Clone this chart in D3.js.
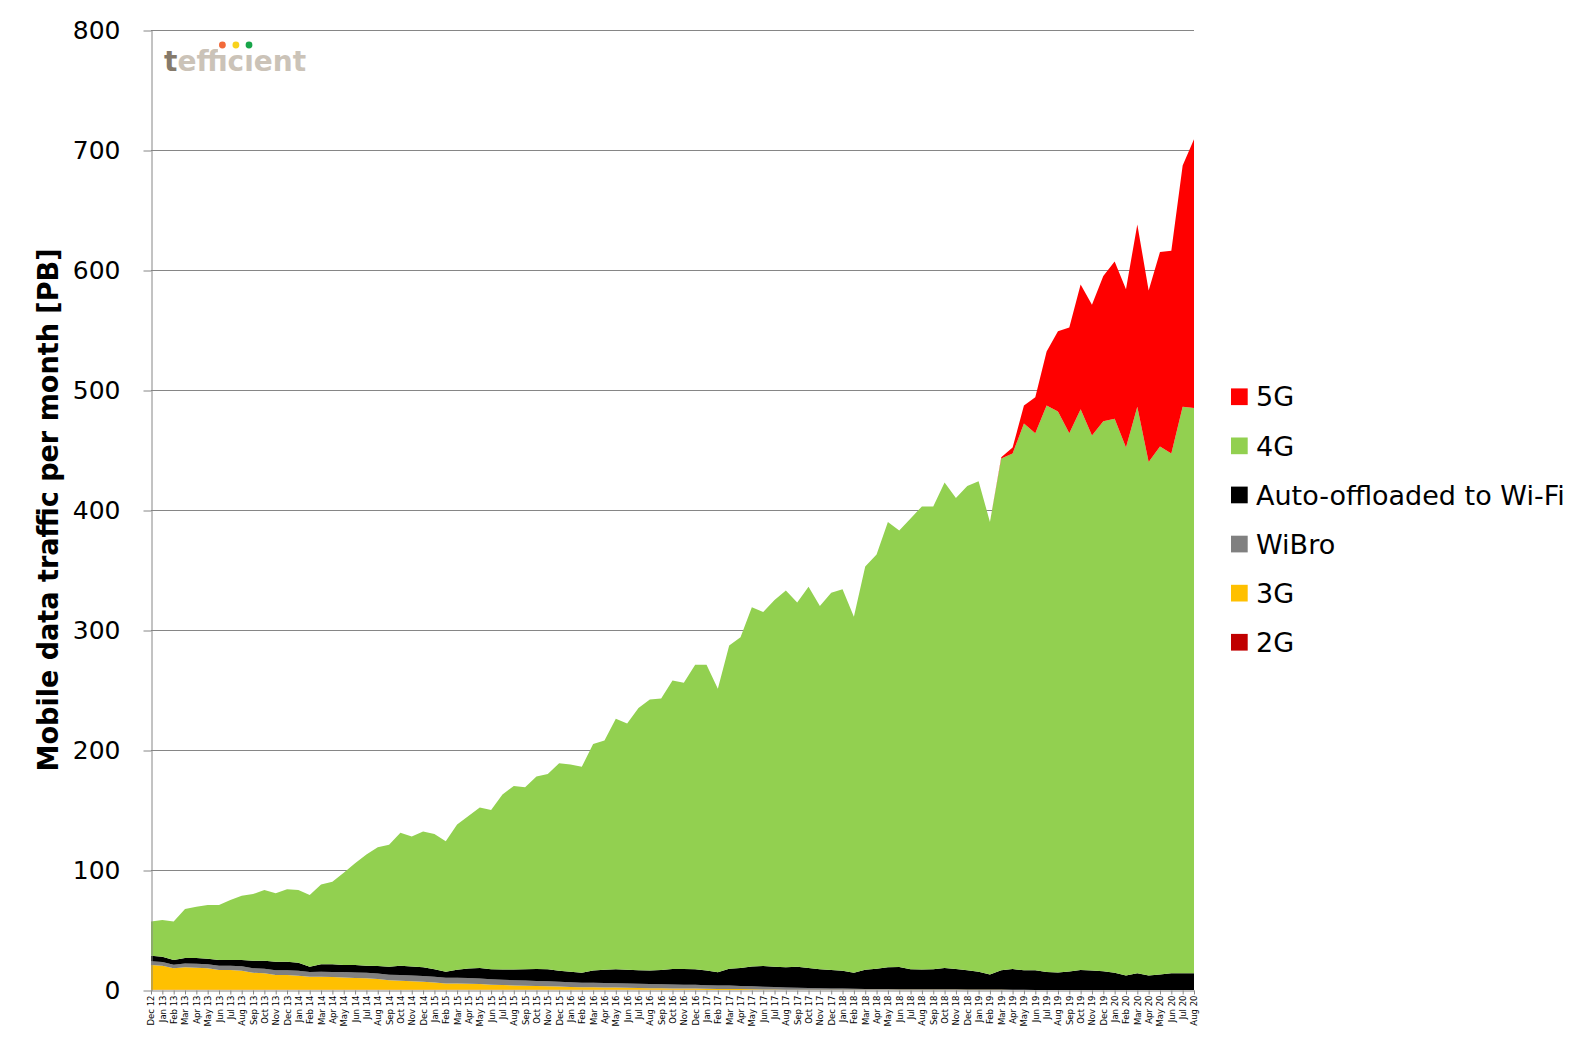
<!DOCTYPE html>
<html><head><meta charset="utf-8">
<script src="https://cdn.jsdelivr.net/npm/d3@7"></script>
<style>body{margin:0;background:#fff} svg{display:block}</style>
</head><body><svg id="c" width="1592" height="1038"></svg>
<script>
const months = ["Dec 12",
"Jan 13","Feb 13","Mar 13","Apr 13","May 13","Jun 13","Jul 13","Aug 13","Sep 13","Oct 13","Nov 13","Dec 13",
"Jan 14","Feb 14","Mar 14","Apr 14","May 14","Jun 14","Jul 14","Aug 14","Sep 14","Oct 14","Nov 14","Dec 14",
"Jan 15","Feb 15","Mar 15","Apr 15","May 15","Jun 15","Jul 15","Aug 15","Sep 15","Oct 15","Nov 15","Dec 15",
"Jan 16","Feb 16","Mar 16","Apr 16","May 16","Jun 16","Jul 16","Aug 16","Sep 16","Oct 16","Nov 16","Dec 16",
"Jan 17","Feb 17","Mar 17","Apr 17","May 17","Jun 17","Jul 17","Aug 17","Sep 17","Oct 17","Nov 17","Dec 17",
"Jan 18","Feb 18","Mar 18","Apr 18","May 18","Jun 18","Jul 18","Aug 18","Sep 18","Oct 18","Nov 18","Dec 18",
"Jan 19","Feb 19","Mar 19","Apr 19","May 19","Jun 19","Jul 19","Aug 19","Sep 19","Oct 19","Nov 19","Dec 19",
"Jan 20","Feb 20","Mar 20","Apr 20","May 20","Jun 20","Jul 20","Aug 20"];

const g2 = [0.3,0.3,0.3,0.3,0.3,0.3,0.3,0.3,0.3,0.3,0.3,0.3,0.3,0.3,0.3,0.3,0.3,0.3,0.3,0.3,0.3,0.3,0.3,0.3,0.3,
0.2,0.2,0.2,0.2,0.2,0.2,0.2,0.2,0.2,0.2,0.2,0.2,0.2,0.2,0.2,0.2,0.2,0.2,0.2,0.2,0.2,0.2,0.2,0.2,
0.1,0.1,0.1,0.1,0.1,0.1,0.1,0.1,0.1,0.1,0.1,0.1,0.1,0.1,0.1,0.1,0.1,0.1,0.1,0.1,0.1,0.1,0.1,0.1,0.1,0.1,0.1,
0,0,0,0,0,0,0,0,0,0,0,0,0,0,0,0,0];

const g3 = [20.5,20.0,17.8,18.6,18.3,17.8,16.4,16.4,15.8,14.1,
13.6,12.2,12.2,11.6,10.8,10.8,10.5,10.2,9.8,9.4,
8.8,7.8,7.5,7.0,6.6,6.0,5.3,5.2,5.0,4.7,
4.2,3.9,3.6,3.4,3.2,2.9,2.7,2.4,2.1,2.0,
1.9,1.8,1.6,1.4,1.3,1.2,1.1,1.0,1.0,0.9,
0.8,0.8,0.7,0.6,0.4,0.3,0.2,0.2,0.2,0.2,
0.2,0.2,0.2,0.1,0.1,0.1,0.1,0.1,0.1,0.1,
0.1,0.1,0.1,0.1,0.1,0.1,0.1,0.1,0,0,
0,0,0,0,0,0,0,0,0,0,
0,0,0];

const wibro = [3.2,3.0,3.0,3.2,3.3,3.4,3.5,3.5,3.6,3.8,
3.9,4.0,4.0,4.1,4.0,4.2,4.3,4.4,4.5,4.6,
4.6,4.7,4.8,4.8,4.8,4.8,4.8,4.8,4.8,4.7,
4.6,4.5,4.4,4.3,4.2,4.1,4.0,3.9,3.8,3.8,
3.7,3.7,3.6,3.6,3.5,3.4,3.3,3.2,3.1,3.0,
2.9,2.8,2.6,2.4,2.2,2.0,1.8,1.6,1.4,1.2,
1.0,0.9,0.8,0.7,0.7,0.6,0.5,0.5,0.5,0.4,
0.4,0.4,0.3,0.3,0.3,0.2,0.2,0.1,0.1,0.1,
0,0,0,0,0,0,0,0,0,0,
0,0,0];

const offload = [4.6,4.5,3.9,4.6,4.8,4.6,4.8,4.8,5.3,6.2,
6.6,7.1,7.1,6.8,4.3,6.1,6.3,5.9,6.2,6.0,
6.3,6.6,7.6,7.5,7.3,6.2,5.0,6.6,8.0,8.7,
8.2,8.4,8.8,9.3,9.9,10.0,9.1,8.7,8.3,10.3,
11.0,11.5,11.4,11.3,11.2,11.8,12.8,13.2,12.9,12.3,
11.0,14.1,14.9,16.5,17.3,17.0,16.9,17.5,16.6,15.7,
15.4,14.9,13.3,16.0,16.9,18.1,18.5,16.5,16.3,16.6,
17.7,16.9,15.9,14.8,12.5,16.0,17.2,16.2,16.3,14.9,
14.6,15.4,16.7,16.2,15.6,14.4,12.0,13.9,12.0,13.0,
14.0,14.0,13.9];

const g4 = [28.4,30.5,32.0,40.8,42.7,44.7,45.8,50.0,53.6,55.6,
58.9,57.0,60.4,60.5,59.8,66.6,68.9,77.0,84.8,92.7,
99.0,101.6,110.8,108.4,113.0,112.8,108.7,121.2,127.0,133.7,
132.8,146.0,153.0,151.8,160.5,162.8,173.0,172.8,171.6,188.7,
191.2,208.8,205.2,218.5,225.8,226.4,240.6,238.4,253.8,254.7,
236.2,269.2,275.7,299.4,295.0,305.6,314.0,303.6,317.7,302.8,
314.3,317.9,296.6,336.1,345.2,371.1,363.8,375.8,386.0,385.8,
404.7,392.5,403.6,408.7,377.0,426.6,429.5,455.6,447.6,472.0,
467.4,448.6,467.3,445.8,458.4,461.6,440.0,472.1,428.0,440.0,
433.0,472.0,471.1];

const g5 = [0,0,0,0,0,0,0,0,0,0,
0,0,0,0,0,0,0,0,0,0,
0,0,0,0,0,0,0,0,0,0,
0,0,0,0,0,0,0,0,0,0,
0,0,0,0,0,0,0,0,0,0,
0,0,0,0,0,0,0,0,0,0,
0,0,0,0,0,0,0,0,0,0,
0,0,0,0,0,1,5,15,30,45,
67,88,104,109,121,131,132,152,143,162,
169,201,224];

const yTicks = [0,100,200,300,400,500,600,700,800];
const seriesNames = ["2G","3G","WiBro","Auto-offloaded to Wi-Fi","4G","5G"];
const seriesColors = ["#C00000","#FFC000","#808080","#000000","#92D050","#FF0000"];
const yTitle = "Mobile data traffic per month [PB]";

const svg = d3.select("#c");
const x = d3.scalePoint().domain(months).range([151, 1194]);
const y = d3.scaleLinear().domain([0, 800]).range([990, 30]);
const series = [g2, g3, wibro, offload, g4, g5];
const rows = months.map((m, i) => {
  const r = {month: m};
  seriesNames.forEach((k, j) => r[k] = series[j][i]);
  return r;
});
const stacked = d3.stack().keys(seriesNames)(rows);

// gridlines
svg.append("g").selectAll("line").data(yTicks.filter(v => v > 0)).join("line")
  .attr("x1", 151).attr("x2", 1194)
  .attr("y1", d => Math.round(y(d)) + 0.5).attr("y2", d => Math.round(y(d)) + 0.5)
  .attr("stroke", "#868686").attr("stroke-width", 1);

// areas
const area = d3.area()
  .x(d => x(d.data.month))
  .y0(d => y(d[0]))
  .y1(d => y(d[1]));
svg.append("g").selectAll("path").data(stacked).join("path")
  .attr("fill", (d, i) => seriesColors[i])
  .attr("d", area);

// y axis
const yAxis = svg.append("g").attr("transform", "translate(151.5,0.5)")
  .call(d3.axisLeft(y).tickValues(yTicks).tickSize(8).tickSizeOuter(0).tickPadding(23));
yAxis.select(".domain").attr("stroke", "#868686");
yAxis.selectAll(".tick line").attr("stroke", "#868686");
yAxis.selectAll(".tick text").attr("font-family", "DejaVu Sans, Verdana, sans-serif")
  .attr("font-size", 25).attr("fill", "#000");

// x axis
const xAxis = svg.append("g").attr("transform", "translate(0,990.5)")
  .call(d3.axisBottom(x).tickSize(4).tickSizeOuter(0));
xAxis.select(".domain").attr("stroke", "#868686");
xAxis.selectAll(".tick line").attr("stroke", "#868686");
xAxis.selectAll(".tick text")
  .attr("font-family", "DejaVu Sans, Verdana, sans-serif")
  .attr("font-size", 8.5).attr("fill", "#000")
  .attr("transform", "rotate(-90)")
  .attr("x", -5).attr("y", 0).attr("dy", "0.35em")
  .attr("text-anchor", "end");

// y title
svg.append("text")
  .attr("transform", "translate(58,510) rotate(-90)")
  .attr("text-anchor", "middle")
  .attr("font-family", "DejaVu Sans Condensed, DejaVu Sans, sans-serif")
  .attr("font-stretch", "condensed")
  .attr("font-weight", "bold").attr("font-size", 28)
  .attr("textLength", 523).attr("lengthAdjust", "spacingAndGlyphs")
  .text(yTitle);

// legend
const legendItems = seriesNames.map((n, i) => ({name: n, color: seriesColors[i]})).reverse();
const lg = svg.append("g").selectAll("g").data(legendItems).join("g")
  .attr("transform", (d, i) => `translate(1231,${396.7 + i * 49.1})`);
lg.append("rect").attr("x", 0).attr("y", -8.3).attr("width", 16.7).attr("height", 16.7)
  .attr("fill", d => d.color);
lg.append("text").attr("x", 25).attr("y", 0).attr("dy", "0.36em")
  .attr("font-family", "DejaVu Sans, Verdana, sans-serif").attr("font-size", 27)
  .attr("fill", "#000").text(d => d.name);

// logo
const logo = svg.append("g");
const lt = logo.append("text").attr("x", 164).attr("y", 70.5)
  .attr("font-family", "DejaVu Sans, sans-serif").attr("font-weight", "bold")
  .attr("font-size", 28);
lt.append("tspan").attr("fill", "#857a6b").text("t");
lt.append("tspan").attr("fill", "#cbc3b8").text("efficient");
const node = lt.node();
const dotIdx = [4, 5, 6];
const dotCols = ["#f26a3a", "#f8d21c", "#18a54a"];
dotIdx.forEach((ci, k) => {
  const e = node.getExtentOfChar(ci);
  const cx = e.x + e.width / 2;
  if (k !== 1) {
    logo.append("rect").attr("x", cx - 4.5).attr("y", 70.5 - 23).attr("width", 9).attr("height", 6.8)
      .attr("fill", "#fff");
  }
  logo.append("circle").attr("cx", cx).attr("cy", 45).attr("r", 3.4).attr("fill", dotCols[k]);
});
</script>
</body></html>
